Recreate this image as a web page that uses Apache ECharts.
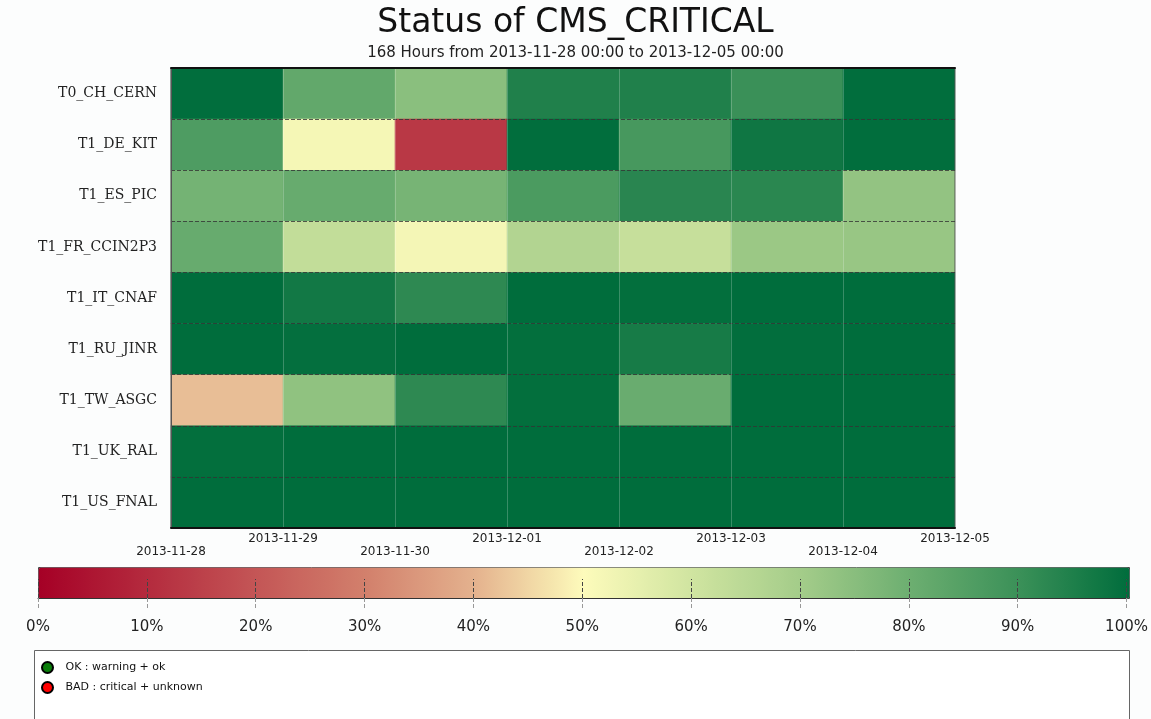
<!DOCTYPE html>
<html>
<head>
<meta charset="utf-8">
<title>Status of CMS_CRITICAL</title>
<script src="https://cdn.jsdelivr.net/npm/echarts@6/dist/echarts.min.js"></script>
<style>
    html, body { margin: 0; padding: 0; background: #fcfdfd; }
    #chart { width: 1151px; height: 719px; }
</style>
</head>
<body>
<div id="chart"></div>
<script>
// 站点（从上到下）
const sites = ['T0_CH_CERN', 'T1_DE_KIT', 'T1_ES_PIC', 'T1_FR_CCIN2P3', 'T1_IT_CNAF',
               'T1_RU_JINR', 'T1_TW_ASGC', 'T1_UK_RAL', 'T1_US_FNAL'];

// 日期刻度（列边界）
const dayLabels = ['2013-11-28', '2013-11-29', '2013-11-30', '2013-12-01',
                   '2013-12-02', '2013-12-03', '2013-12-04', '2013-12-05'];

// 每天的可用率 (%)，一行一个站点
const availability = [
    [99.8, 82, 74.5, 94.5, 94.5, 90, 99.8],
    [86, 51.7, 13, 99.8, 87.5, 97.4, 99.8],
    [78.5, 81, 78, 86.5, 93, 92.7, 73],
    [81, 63, 52, 66.5, 62, 71.5, 72],
    [100, 96.9, 92, 100, 99.5, 100, 100],
    [100, 99.3, 100, 99.5, 96, 99.7, 100],
    [41.7, 73.5, 92, 99.5, 80.5, 100, 100],
    [99.5, 100, 100, 100, 100, 100, 100],
    [100, 100, 100, 100, 100, 100, 100]
];

// 色标
const scaleColors = ['#a50026', '#b42b3e', '#c45656', '#d2806c', '#e4b28e', '#fdfbbb',
                     '#cfe4a0', '#a3cc89', '#6cae70', '#3a9058', '#006d3c'];

const legendItems = [
    { name: 'OK : warning + ok', color: '#0a7d0a' },
    { name: 'BAD : critical + unknown', color: '#ff0000' }
];

const sansFont = 'DejaVu Sans';

const heatData = [];
availability.forEach((row, y) => {
    row.forEach((v, x) => heatData.push([x, y, v]));
});

const chart = echarts.init(document.getElementById('chart'));

// 日期标签交错两行
const dateAxis = (odd, margin) => ({
    type: 'value',
    gridIndex: 0,
    position: 'bottom',
    min: 0,
    max: 7,
    interval: 1,
    axisLine: { show: false },
    axisTick: { show: false },
    splitLine: { show: false },
    axisLabel: {
        margin: margin,
        showMinLabel: true,
        showMaxLabel: true,
        fontFamily: sansFont,
        fontSize: 12,
        color: '#222',
        formatter: v => (v % 2 === (odd ? 1 : 0)) ? dayLabels[v] : ''
    }
});

const option = {
    backgroundColor: '#fcfdfd',
    animation: false,
    title: [
        {
            text: 'Status of CMS_CRITICAL',
            left: 'center',
            top: 7,
            padding: [0, 24, 0, 0],
            textStyle: { fontFamily: sansFont, fontSize: 33, fontWeight: 'normal', color: '#111' }
        },
        {
            text: '168 Hours from 2013-11-28 00:00 to 2013-12-05 00:00',
            left: 'center',
            top: 46,
            padding: [0, 24, 0, 0],
            textStyle: { fontFamily: sansFont, fontSize: 15, fontWeight: 'normal', color: '#222' }
        }
    ],
    graphic: [
        {
            type: 'rect',
            z: -1,
            shape: { x: 34.5, y: 650.5, width: 1095, height: 100 },
            style: { fill: '#fff', stroke: '#666', lineWidth: 1 }
        }
    ],
    grid: [
        { left: 171, top: 68, width: 784, height: 460, show: true, z: 3,
          borderColor: '#555', borderWidth: 1, backgroundColor: 'transparent' },
        { left: 38, top: 567, width: 1091, height: 31 }
    ],
    xAxis: [
        {
            type: 'category',
            gridIndex: 0,
            position: 'bottom',
            data: dayLabels.slice(0, 7),
            z: 5,
            axisLine: { lineStyle: { color: '#111', width: 2 } },
            axisTick: { inside: true, length: 4, lineStyle: { color: '#111', width: 2 } },
            axisLabel: { show: false },
            splitLine: { show: true, lineStyle: { color: 'rgba(255,255,255,0.22)', width: 1 } }
        },
        {
            type: 'category',
            gridIndex: 0,
            position: 'top',
            data: dayLabels.slice(0, 7),
            z: 5,
            axisLine: { lineStyle: { color: '#111', width: 2 } },
            axisTick: { inside: true, length: 4, lineStyle: { color: '#111', width: 2 } },
            axisLabel: { show: false }
        },
        dateAxis(true, 5),
        dateAxis(false, 18),
        {
            type: 'value',
            gridIndex: 1,
            position: 'bottom',
            min: 0,
            max: 100,
            interval: 10,
            z: 10,
            axisLine: { show: true, lineStyle: { color: '#333' } },
            axisTick: { inside: true, length: 19, lineStyle: { color: '#444', type: 'dashed' } },
            axisLabel: { show: false },
            splitLine: { show: false }
        },
        {
            type: 'value',
            gridIndex: 1,
            position: 'bottom',
            min: 0,
            max: 100,
            interval: 10,
            z: 10,
            axisLine: { show: false },
            axisTick: { length: 12, lineStyle: { color: '#999', type: 'dashed' } },
            axisLabel: { margin: 22, formatter: '{value}%', fontFamily: sansFont, fontSize: 15, color: '#222' },
            splitLine: { show: false }
        }
    ],
    yAxis: [
        {
            type: 'category',
            gridIndex: 0,
            data: sites,
            inverse: true,
            z: 5,
            axisLine: { lineStyle: { color: '#555' } },
            axisTick: { show: false },
            axisLabel: { margin: 14, fontFamily: 'DejaVu Serif', fontSize: 14, color: '#222' },
            splitLine: { show: true, interval: 0, lineStyle: { color: '#333', type: 'dashed', width: 1, opacity: 0.8 } }
        },
        {
            type: 'value',
            gridIndex: 1,
            min: 0,
            max: 1,
            show: false
        }
    ],
    visualMap: {
        type: 'continuous',
        seriesIndex: 0,
        min: 0,
        max: 100,
        orient: 'horizontal',
        left: 38,
        top: 567,
        itemWidth: 31,
        itemHeight: 1091,
        padding: 0,
        calculable: false,
        hoverLink: false,
        borderColor: '#444',
        borderWidth: 1,
        inRange: { color: scaleColors }
    },
    legend: {
        orient: 'vertical',
        left: 41,
        top: 661,
        padding: 0,
        itemGap: 7,
        itemWidth: 26,
        itemHeight: 11,
        icon: 'circle',
        selectedMode: false,
        data: legendItems.map(d => d.name),
        textStyle: { fontFamily: sansFont, fontSize: 11, color: '#111' }
    },
    series: [
        {
            type: 'heatmap',
            xAxisIndex: 0,
            yAxisIndex: 0,
            data: heatData,
            itemStyle: { borderWidth: 0 }
        }
    ].concat(legendItems.map(d => ({
        type: 'scatter',
        name: d.name,
        xAxisIndex: 0,
        yAxisIndex: 0,
        data: [],
        itemStyle: { color: d.color, borderColor: '#000', borderWidth: 1, opacity: 1 }
    })))
};

chart.setOption(option);
</script>
</body>
</html>
